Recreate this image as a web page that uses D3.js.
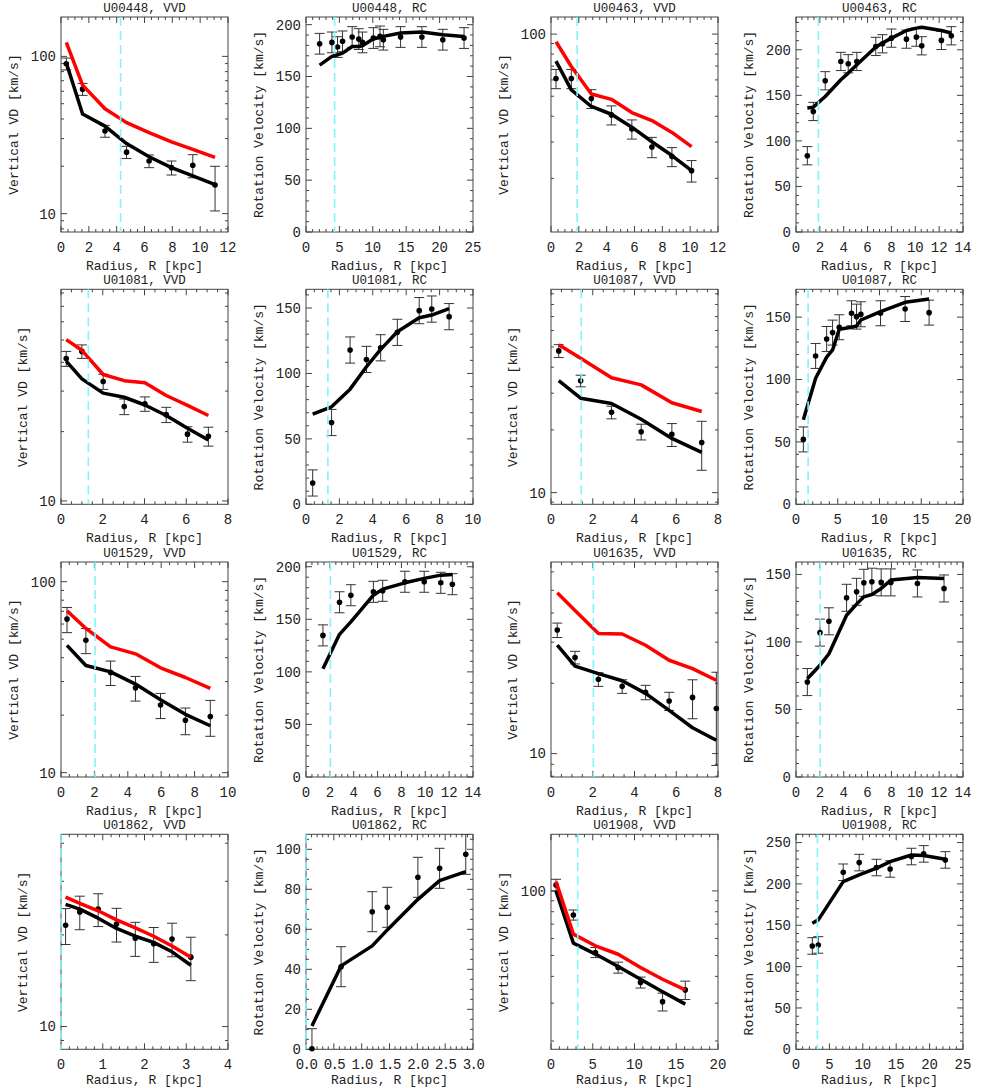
<!DOCTYPE html>
<html><head><meta charset="utf-8">
<script src="https://cdn.jsdelivr.net/npm/d3@7"></script>
<style>
body{margin:0;background:#fff}
text{font-family:"Liberation Mono","DejaVu Sans Mono",monospace;fill:#222}
</style>
</head><body>
<svg id="c" width="981" height="1088"></svg>
<script>
// ---------------- DATA ----------------
const galaxies = ["U00448","U00463","U01081","U01087","U01529","U01635","U01862","U01908"];
const cyanR = [4.28, 1.88, 1.31, 1.45, 2.04, 2.03, 0.0, 3.2];

// Vertical velocity dispersion (VVD) panels
const vvdR = [
  [0.38,1.55,3.16,4.71,6.33,7.94,9.47,11.07],
  [0.36,1.46,2.90,4.34,5.81,7.25,8.69,10.10],
  [0.25,1.00,2.02,3.03,4.02,5.04,6.06,7.06],
  [0.37,1.42,2.90,4.32,5.79,7.22],
  [0.36,1.49,2.97,4.46,5.96,7.45,8.94],
  [0.30,1.15,2.27,3.41,4.53,5.66,6.78,7.92],
  [0.11,0.45,0.89,1.33,1.78,2.22,2.66,3.11],
  [0.60,2.68,5.32,8.04,10.72,13.36,16.08]
];
const vvdObs = [
  [89.8,61.9,33.5,24.6,21.6,19.6,20.3,15.2],
  [60.9,60.9,48.7,40.6,34.7,28.4,25.5,21.8],
  [41.5,44.6,33.0,25.7,26.4,23.7,19.5,19.1],
  [47.9,34.4,24.3,19.6,19.05,17.4],
  [63.7,49.4,33.5,27.8,22.6,18.8,19.7],
  [33.8,25.8,20.8,19.4,18.3,16.8,17.4,15.6],
  [21.5,23.8,24.3,21.7,19.5,18.7,19.4,16.9],
  [106.6,77.3,51.7,44.0,37.5,30.5,34.6]
];
const vvdErr = [
  [7.8,5.4,2.9,2.2,2.0,2.0,3.4,4.8],
  [6.5,6.5,5.1,4.3,3.7,3.2,2.7,2.6],
  [3.1,3.0,2.5,2.0,1.9,1.8,1.5,1.8],
  [3.4,2.2,1.7,1.7,2.4,4.6],
  [9.6,7.4,4.9,4.1,3.4,3.0,4.2],
  [2.4,1.6,1.4,1.3,1.3,1.5,3.3,6.7],
  [2.9,3.0,3.0,2.75,2.5,2.45,2.45,2.75],
  [6.7,4.2,2.8,2.6,2.2,2.9,3.4]
];
const vvdModelBlack = [
  [91,43,36,27.9,23.0,19.6,17.4,15.3],
  [74.0,53.7,44.6,40.9,35.4,30.1,25.8,21.8],
  [40.5,33.9,29.4,28.2,26.1,23.5,20.7,18.4],
  [34.5,28.4,26.8,22.5,18.2,15.6],
  [46.4,36.4,33.7,29.1,24.1,20.2,17.6],
  [29.1,23.7,22.0,20.5,18.1,15.3,12.9,11.4],
  [25.2,24.3,22.7,21.0,19.8,18.9,17.6,15.9],
  [100,57.1,50.8,44.5,38.8,33.9,29.7]
];
const vvdModelRed = [
  [122.8,65.6,46.4,37.9,32.7,28.6,25.6,22.8],
  [91.8,69.7,51.3,48.3,41.7,38.1,33.4,28.5],
  [50.2,45.1,35.4,33.3,32.6,28.7,26.0,23.5],
  [51.2,44.1,35.6,32.9,27.0,24.5],
  [70.5,56.9,45.6,41.9,35.4,31.5,27.6],
  [48.8,41.0,32.7,32.5,29.1,25.1,23.1,20.6],
  [26.6,25.4,24.0,22.4,21.1,19.8,18.4,16.9],
  [110.5,62.9,55.5,50.7,44.0,38.8,34.6]
];
const vvdYRange = [[7.64,178],[11.0,121],[9.67,83],[8.79,94.6],[9.49,126.8],[7.94,66.1],[8.42,42.8],[18.3,183.5]];
const vvdXMax = [12,12,8,8,10,8,4,20];
const vvdXStep = [2,2,2,2,2,2,1,5];

// Rotation curve (RC) panels
const rcR = [
  [2.04,3.88,4.72,5.47,6.91,7.9,8.45,10.09,11.08,11.58,14.16,17.35,20.48,23.66],
  [0.95,1.45,2.45,3.76,4.38,5.10,6.69,7.25,8.0,9.26,10.09,10.54,12.19,13.02],
  [0.40,1.53,2.64,3.62,4.47,5.47,6.78,7.53,8.57],
  [0.88,2.35,3.67,4.38,5.18,6.65,7.25,7.77,10.12,13.07,15.94],
  [1.42,2.81,3.76,5.65,6.43,8.29,9.91,11.3,12.27],
  [0.95,2.01,2.76,4.24,5.08,5.69,6.36,7.14,7.95,10.18,12.41],
  [0.107,0.63,1.19,1.46,2.01,2.40,2.87],
  [2.44,3.34,7.07,9.46,12.05,14.09,17.28,19.12,22.36]
];
const rcObs = [
  [181.6,182.9,178.4,183.9,188.1,186.1,182.9,187.1,188.7,185.5,188.1,188.1,185.5,187.1],
  [83.7,132.3,166,187.2,184.7,187.2,203.7,206.6,212.8,211.7,213.9,204.4,210.3,215.4],
  [16.3,62.5,117.9,110.7,119.6,131.4,148,149.2,143.4],
  [52,118.9,132.5,137.6,141.9,153.1,150.4,152.3,153.1,156.5,153.6],
  [134.7,166.2,172.9,176.1,177.1,185.7,185.7,184.7,183.4],
  [70.3,106.9,115.3,132.7,137.1,143.8,144.6,144.1,144.1,143.3,139.6],
  [0.3,41.3,68.8,71,86,90.5,97.5],
  [125,126.2,214.1,225.8,219.8,218.1,233.1,236.3,229]
];
const rcErr = [10,10,10,10,10,10,10,10];
const rcModel = [
  [161,169.4,171,172.6,179,179,179.7,186.5,187.7,188.7,191.9,192.9,190.3,188.7],
  [136,137,148.8,167.1,174.4,183.6,203,207.4,212.8,221.2,223.8,224.7,221.2,218.4],
  [68.9,74.5,88,105.1,118.4,131.9,142.6,144.6,149.5],
  [67.7,101,117.9,123.7,140.3,141.9,142.9,147.7,154.4,161.9,164.5],
  [102.9,135.7,147.5,172.9,178.7,184.7,188.9,192,192.7],
  [72.8,82.7,91.3,119.8,128,133.4,135.1,139.6,145.8,147.8,147.0],
  [11.7,41.7,51.7,59.7,75,84.3,88.8],
  [152.4,156.5,202.8,210.9,219,227,235,234.3,229.8]
];
const rcYMax = [207.4,236,164.3,172.3,204.5,159.2,107.5,260];
const rcYStep = [50,50,50,50,50,50,20,50];
const rcXMax = [25,14,10,20,14,14,3,25];
const rcXStep = [5,2,2,5,2,2,0.5,5];

// ---------------- LAYOUT ----------------
const W = 167, H = 215;
const colX = [61, 306, 551, 796];
const rowY = [17, 289.3, 562, 834.3];
const svg = d3.select("#c");
const axisCol = "#444";
const svgH = 1088;
let clipN = 0;

function minorCount(step){ return (step===2) ? 4 : 5; }

function drawPanel(o){
  const g = svg.append("g");
  const L = o.left, T = o.top;
  const x = d3.scaleLinear().domain([0, o.xmax]).range([L, L+W]);
  const y = (o.log ? d3.scaleLog() : d3.scaleLinear()).domain(o.ydom).range([T+H, T]);
  const cid = "clip" + (clipN++);
  svg.append("clipPath").attr("id", cid).append("rect")
    .attr("x", L).attr("y", T).attr("width", W).attr("height", H);

  // box
  g.append("rect").attr("x", L).attr("y", T).attr("width", W).attr("height", H)
    .attr("fill", "none").attr("stroke", axisCol).attr("stroke-width", 1);

  const eps = 1e-9;
  // x ticks
  const xm = minorCount(o.xstep);
  const xMaj = d3.range(0, o.xmax + eps, o.xstep);
  const xMin = d3.range(0, o.xmax + eps, o.xstep / xm)
    .filter(v => Math.abs(v/o.xstep - Math.round(v/o.xstep)) > 1e-6);
  const tk = g.append("g").attr("stroke", axisCol).attr("stroke-width", 1);
  xMaj.forEach(v => {
    tk.append("line").attr("x1", x(v)).attr("x2", x(v)).attr("y1", T+H).attr("y2", T+H-6);
    tk.append("line").attr("x1", x(v)).attr("x2", x(v)).attr("y1", T).attr("y2", T+6);
  });
  xMin.forEach(v => {
    tk.append("line").attr("x1", x(v)).attr("x2", x(v)).attr("y1", T+H).attr("y2", T+H-3);
    tk.append("line").attr("x1", x(v)).attr("x2", x(v)).attr("y1", T).attr("y2", T+3);
  });
  const decimal = o.xstep < 1;
  const xfmt = decimal ? d3.format(".1f") : d3.format("d");
  xMaj.forEach(v => {
    g.append("text").attr("x", x(v)).attr("y", T+H+20).attr("text-anchor", "middle")
      .attr("font-size", 14).attr("letter-spacing", decimal ? "-1.6px" : null).text(xfmt(v));
  });
  const xtY = Math.min(T+H+38, svgH - 4);
  g.append("text").attr("x", L+W/2).attr("y", xtY).attr("text-anchor", "middle")
    .attr("font-size", 13).text("Radius, R [kpc]");

  // y ticks
  let yMaj = [], yMin = [];
  if (o.log) {
    const p0 = Math.floor(Math.log10(o.ydom[0])), p1 = Math.ceil(Math.log10(o.ydom[1]));
    for (let p = p0; p <= p1; p++) {
      const d = Math.pow(10, p);
      if (d >= o.ydom[0] && d <= o.ydom[1]) yMaj.push(d);
      for (let k = 2; k <= 9; k++) {
        const v = k * d;
        if (v >= o.ydom[0] && v <= o.ydom[1]) yMin.push(v);
      }
    }
  } else {
    const ym = o.ystep === 50 ? 5 : 4;
    yMaj = d3.range(0, o.ydom[1] + eps, o.ystep);
    yMin = d3.range(0, o.ydom[1] + eps, o.ystep / ym)
      .filter(v => Math.abs(v/o.ystep - Math.round(v/o.ystep)) > 1e-6);
  }
  const yfmt = d3.format("d");
  yMaj.forEach(v => {
    tk.append("line").attr("x1", L).attr("x2", L+6).attr("y1", y(v)).attr("y2", y(v));
    tk.append("line").attr("x1", L+W).attr("x2", L+W-6).attr("y1", y(v)).attr("y2", y(v));
  });
  yMin.forEach(v => {
    tk.append("line").attr("x1", L).attr("x2", L+3).attr("y1", y(v)).attr("y2", y(v));
    tk.append("line").attr("x1", L+W).attr("x2", L+W-3).attr("y1", y(v)).attr("y2", y(v));
  });
  let maxw = 0;
  yMaj.forEach(v => {
    const t = g.append("text").attr("x", L-5).attr("y", y(v)).attr("dy", "0.35em")
      .attr("text-anchor", "end").attr("font-size", 14).text(yfmt(v));
    maxw = Math.max(maxw, t.node().getComputedTextLength());
  });
  const yc = L - 5 - maxw - 17;
  g.append("text").attr("transform", `translate(${yc},${T+H/2}) rotate(-90)`)
    .attr("text-anchor", "middle").attr("dy", "0.35em").attr("font-size", 13).text(o.ytitle);

  // title
  g.append("text").attr("x", L+W/2).attr("y", T-5).attr("text-anchor", "middle")
    .attr("font-size", 12.5).text(o.title);

  // data: error bars
  const eb = g.append("g").attr("clip-path", `url(#${cid})`).attr("stroke", "#333").attr("stroke-width", 1);
  o.r.forEach((r, i) => {
    const v = o.obs[i], e = o.err[i];
    const lo = o.log ? Math.max(v - e, 1e-3) : v - e;
    const xx = x(r);
    eb.append("line").attr("x1", xx).attr("x2", xx).attr("y1", y(lo)).attr("y2", y(v + e));
    eb.append("line").attr("x1", xx-5).attr("x2", xx+5).attr("y1", y(lo)).attr("y2", y(lo));
    eb.append("line").attr("x1", xx-5).attr("x2", xx+5).attr("y1", y(v+e)).attr("y2", y(v+e));
  });
  // dots
  o.r.forEach((r, i) => {
    g.append("circle").attr("cx", x(r)).attr("cy", y(o.obs[i])).attr("r", 2.8).attr("fill", "#000");
  });

  // models
  const line = d3.line().x(d => x(d[0])).y(d => y(d[1]));
  o.models.forEach(m => {
    g.append("path").attr("d", line(o.r.map((r, i) => [r, m.v[i]])))
      .attr("fill", "none").attr("stroke", m.c).attr("stroke-width", 3.5)
      .attr("stroke-linejoin", "round");
  });

  // cyan dashed radius
  g.append("line").attr("x1", x(o.cyan)).attr("x2", x(o.cyan)).attr("y1", T).attr("y2", T+H)
    .attr("stroke", "#7ff5ff").attr("stroke-width", 1.6).attr("stroke-dasharray", "9,5");
}

galaxies.forEach((gal, i) => {
  const row = Math.floor(i / 2), c0 = (i % 2) * 2;
  drawPanel({
    left: colX[c0], top: rowY[row], xmax: vvdXMax[i], xstep: vvdXStep[i],
    log: true, ydom: vvdYRange[i], title: gal + ", VVD", ytitle: "Vertical VD [km/s]",
    r: vvdR[i], obs: vvdObs[i], err: vvdErr[i], cyan: cyanR[i],
    models: [{v: vvdModelBlack[i], c: "#000"}, {v: vvdModelRed[i], c: "#ff0000"}]
  });
  drawPanel({
    left: colX[c0+1], top: rowY[row], xmax: rcXMax[i], xstep: rcXStep[i],
    log: false, ydom: [0, rcYMax[i]], ystep: rcYStep[i], title: gal + ", RC",
    ytitle: "Rotation Velocity [km/s]",
    r: rcR[i], obs: rcObs[i], err: rcR[i].map(() => rcErr[i]), cyan: cyanR[i],
    models: [{v: rcModel[i], c: "#000"}]
  });
});
</script>
</body></html>
